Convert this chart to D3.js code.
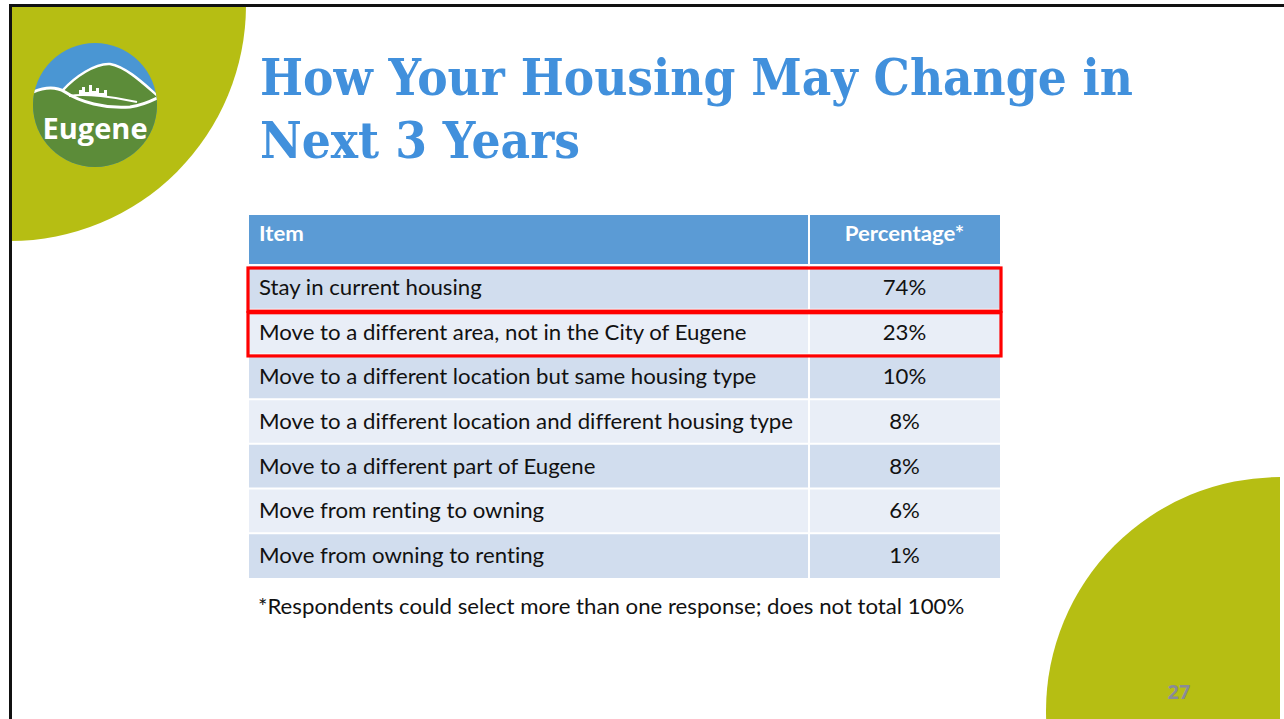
<!DOCTYPE html>
<html>
<head>
<meta charset="utf-8">
<script src="https://cdn.jsdelivr.net/npm/d3@7"></script>
<style>
  html, body { margin: 0; padding: 0; background: #fff; }
  svg { display: block; }
  text { font-variant-ligatures: none; font-feature-settings: "liga" 0, "clig" 0; }
</style>
</head>
<body>
<svg id="chart" width="1284" height="719"></svg>
<script>
// ---- data ----
const titleLines = ["How Your Housing May Change in", "Next 3 Years"];
const headers = ["Item", "Percentage*"];
const items = [
  "Stay in current housing",
  "Move to a different area, not in the City of Eugene",
  "Move to a different location but same housing type",
  "Move to a different location and different housing type",
  "Move to a different part of Eugene",
  "Move from renting to owning",
  "Move from owning to renting"
];
const percents = [74, 23, 10, 8, 8, 6, 1];
const highlighted = [
  "Stay in current housing",
  "Move to a different area, not in the City of Eugene"
];
const footnote = "*Respondents could select more than one response; does not total 100%";
const pageNumber = "27";
const logoText = "Eugene";

// ---- drawing ----
const svg = d3.select("#chart");
const W = 1284, H = 719;
const olive = "#B6BE13";

// background decorative shapes
const arc = d3.arc();
svg.append("path")
  .attr("transform", "translate(10,5)")
  .attr("d", arc({innerRadius: 0, outerRadius: 236, startAngle: Math.PI / 2, endAngle: Math.PI}))
  .attr("fill", olive);
svg.append("path")
  .attr("transform", "translate(1280,711)")
  .attr("d", arc({innerRadius: 0, outerRadius: 234, startAngle: Math.PI, endAngle: Math.PI * 2}))
  .attr("fill", olive);

// slide border lines (top & left)
svg.append("line").attr("x1", 9).attr("x2", W).attr("y1", 5.5).attr("y2", 5.5)
  .attr("stroke", "#111").attr("stroke-width", 3);
svg.append("line").attr("x1", 10.5).attr("x2", 10.5).attr("y1", 4).attr("y2", H)
  .attr("stroke", "#111").attr("stroke-width", 3);

// logo
const logo = svg.append("g").attr("transform", "translate(95,105)");
const defs = svg.append("defs");
defs.append("clipPath").attr("id", "logoClip")
  .append("circle").attr("r", 62);
const lg = logo.append("g").attr("clip-path", "url(#logoClip)");
lg.append("rect").attr("x", -70).attr("y", -70).attr("width", 140).attr("height", 140).attr("fill", "#4A96D3");
lg.append("path")
  .attr("d", "M-70,-11 L-62,-12 C-52,-18 -40,-19 -32,-15 C-20,-28 0,-42 15,-41 C32,-38 50,-20 70,-5 L70,70 L-70,70 Z")
  .attr("fill", "#5C8C39");
lg.append("path")
  .attr("d", "M-32,-15 C-20,-28 0,-42 15,-41 C32,-38 50,-20 64,-8")
  .attr("fill", "none").attr("stroke", "#fff").attr("stroke-width", 2.5);
lg.append("path")
  .attr("d", "M-66,-11 C-52,-18 -40,-19 -30,-13 C-15,-3 10,4 35,2 C48,0 56,-4 62,-7")
  .attr("fill", "none").attr("stroke", "#fff").attr("stroke-width", 3);
lg.append("path")
  .attr("d", "M-26,-9 C-10,-12 20,-8 42,-3")
  .attr("fill", "none").attr("stroke", "#fff").attr("stroke-width", 2);
lg.append("path")
  .attr("d", "M-16,-9 L-16,-15 L-13,-15 L-13,-18 L-10,-18 L-10,-13 L-6,-13 L-6,-20 L-3,-20 L-3,-14 L1,-14 L1,-17 L4,-17 L4,-12 L9,-12 L9,-15 L12,-15 L12,-9 Z")
  .attr("fill", "#fff");
logo.append("text")
  .attr("x", 0).attr("y", 34)
  .attr("text-anchor", "middle")
  .attr("font-family", "'Open Sans', sans-serif")
  .attr("font-weight", 700)
  .attr("font-size", 29)
  .attr("fill", "#fff")
  .text(logoText);

// title
const title = svg.append("g");
const titleWidths = [873, 320];
titleLines.forEach((t, i) => {
  title.append("text")
    .attr("x", 260)
    .attr("y", 95 + i * 63)
    .attr("font-family", "'DejaVu Serif', serif")
    .attr("font-weight", 700)
    .attr("font-size", 51)
    .attr("fill", "#4190DC")
    .attr("textLength", titleWidths[i])
    .attr("lengthAdjust", "spacingAndGlyphs")
    .text(t);
});

// table
const tableLeft = 249, tableRight = 1000, colSplit = 809;
const headerTop = 215, headerBottom = 265, tableBottom = 578;
const y = d3.scaleBand().domain(items).range([headerBottom, tableBottom]);
const valueScale = d3.scaleOrdinal().domain(items).range(percents);
const fmt = d => d + "%";
const bodyFont = "Lato, 'Open Sans', sans-serif";

svg.append("rect")
  .attr("x", tableLeft).attr("y", headerTop)
  .attr("width", tableRight - tableLeft).attr("height", headerBottom - headerTop)
  .attr("fill", "#5B9BD5");

const rows = svg.append("g").selectAll("g").data(items).join("g");
rows.append("rect")
  .attr("x", tableLeft).attr("y", d => y(d))
  .attr("width", tableRight - tableLeft).attr("height", y.bandwidth())
  .attr("fill", (d, i) => i % 2 === 0 ? "#D1DDEE" : "#E9EEF7");
rows.append("line")
  .attr("x1", tableLeft).attr("x2", tableRight)
  .attr("y1", d => y(d)).attr("y2", d => y(d))
  .attr("stroke", "#fff").attr("stroke-width", 2);
svg.append("line")
  .attr("x1", colSplit).attr("x2", colSplit)
  .attr("y1", headerTop).attr("y2", tableBottom)
  .attr("stroke", "#fff").attr("stroke-width", 2);

const hdr = svg.append("g")
  .attr("font-family", bodyFont).attr("font-weight", 700)
  .attr("font-size", 21).attr("fill", "#fff");
hdr.append("text").attr("class", "fit").attr("x", 259).attr("y", 241).text(headers[0]);
hdr.append("text").attr("class", "fit").attr("x", (colSplit + tableRight) / 2).attr("y", 241)
  .attr("text-anchor", "middle").text(headers[1]);

const textG = svg.append("g")
  .attr("font-family", bodyFont).attr("font-size", 21).attr("fill", "#111");
textG.selectAll("text.item").data(items).join("text")
  .attr("class", "item fit")
  .attr("x", 259)
  .attr("y", d => y(d) + y.bandwidth() / 2 + 7.5)
  .text(d => d);
textG.selectAll("text.val").data(items).join("text")
  .attr("class", "val fit")
  .attr("x", (colSplit + tableRight) / 2)
  .attr("y", d => y(d) + y.bandwidth() / 2 + 7.5)
  .attr("text-anchor", "middle")
  .text(d => fmt(valueScale(d)));

svg.append("g").selectAll("rect").data(highlighted).join("rect")
  .attr("x", tableLeft - 1)
  .attr("y", d => y(d) + 3)
  .attr("width", tableRight - tableLeft + 2)
  .attr("height", y.bandwidth() - 1.5)
  .attr("fill", "none")
  .attr("stroke", "#FF0000")
  .attr("stroke-width", 3.2);

svg.append("text")
  .attr("class", "fit")
  .attr("x", 258).attr("y", 614)
  .attr("font-family", bodyFont).attr("font-size", 21).attr("fill", "#111")
  .text(footnote);

// Horizontal compression to mimic narrow Calibri: based on longest row text
const longest = textG.selectAll("text.item").nodes()[3];
const k = 534 / longest.getComputedTextLength();
svg.selectAll("text.fit").each(function() {
  const w = this.getComputedTextLength();
  d3.select(this).attr("textLength", w * k).attr("lengthAdjust", "spacingAndGlyphs");
});

// page number
svg.append("text")
  .attr("x", 1179).attr("y", 699)
  .attr("text-anchor", "middle")
  .attr("font-family", "'Open Sans', sans-serif")
  .attr("font-weight", 700).attr("font-size", 20)
  .attr("fill", "#8A8B98")
  .text(pageNumber);
</script>
</body>
</html>
